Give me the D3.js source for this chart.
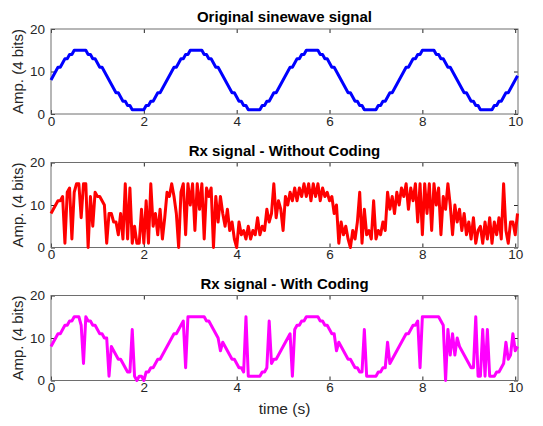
<!DOCTYPE html>
<html>
<head>
<meta charset="utf-8">
<script src="https://cdn.jsdelivr.net/npm/d3@7"></script>
<style>
  body { margin: 0; background: #fff; }
  svg { display: block; font-family: "Liberation Sans", Arial, sans-serif; }
  .tick text { fill: #262626; font-size: 13.5px; }
  .tick line { stroke: #262626; }
</style>
</head>
<body>
<svg id="chart" width="543" height="426"></svg>
<script>
// sample step in seconds, and quantized amplitudes (4 bits)
var dt = 0.05;

var original = [
  8,9,10,11,11,12,13,13,14,14, 15,15,15,15,15,15,14,14,13,13,
  12,11,11,10,9,8,7,6,5,5, 4,3,3,2,2,1,1,1,1,1,
  1,2,2,3,3,4,5,5,6,7,
  8,9,10,11,11,12,13,13,14,14, 15,15,15,15,15,15,14,14,13,13,
  12,11,11,10,9,8,7,6,5,5, 4,3,3,2,2,1,1,1,1,1,
  1,2,2,3,3,4,5,5,6,7,
  8,9,10,11,11,12,13,13,14,14, 15,15,15,15,15,15,14,14,13,13,
  12,11,11,10,9,8,7,6,5,5, 4,3,3,2,2,1,1,1,1,1,
  1,2,2,3,3,4,5,5,6,7,
  8,9,10,11,11,12,13,13,14,14, 15,15,15,15,15,15,14,14,13,13,
  12,11,11,10,9,8,7,6,5,5, 4,3,3,2,2,1,1,1,1,1,
  1,2,2,3,3,4,5,5,6,7,
  8,9
];

var rxNoCoding = [
  8,9,10,11,11,12,1,13,14,2,
  13,15,15,7,15,15,0,12,5,13,
  12,12,11,10,1,8,8,6,6,3,
  8,2,15,2,14,1,5,1,1,9,
  1,11,1,15,5,8,3,9,2,7,
  13,12,15,12,8,0,13,15,3,15,
  10,15,4,15,9,15,2,14,12,14,
  0,12,6,12,8,5,9,4,6,2,
  0,6,3,4,2,5,2,4,3,7,
  3,5,4,9,6,8,15,7,11,9,
  4,12,10,13,11,14,11,14,12,15,
  12,15,11,15,12,15,11,14,12,13,
  11,12,8,10,1,6,3,5,2,0,
  4,2,6,13,1,9,3,4,2,11,
  2,4,3,6,4,13,9,12,8,13,
  10,14,12,15,9,14,11,15,6,15,
  3,15,8,15,4,15,10,14,3,12,
  9,15,10,3,10,6,9,4,8,3,
  6,2,7,1,4,5,1,6,2,7,
  1,6,3,7,2,15,4,1,6,6,
  3,8
];

var rxCoding = [
  8,9,10,11,11,12,13,13,14,14,
  15,15,15,13,4,15,14,14,13,13,
  12,11,11,10,10,1,8,7,6,5,
  5,4,3,2,2,12,1,0,1,1,
  0,2,2,3,3,4,5,5,6,7,
  8,9,10,11,11,12,13,14,3,15,
  15,15,15,15,15,15,15,14,14,13,
  12,11,10,7,9,8,7,6,5,5,
  4,3,3,2,15,1,1,1,1,1,
  1,2,2,3,14,4,5,5,6,7,
  8,9,10,11,1,12,13,13,14,14,
  15,15,15,15,15,15,14,14,13,13,
  12,11,11,7,9,8,7,6,5,5,
  4,3,3,2,2,12,1,1,1,1,
  1,2,2,3,3,9,4,5,6,7,
  8,9,10,11,11,12,13,13,14,3,
  15,15,15,15,15,15,15,15,14,13,
  0,12,6,11,6,10,8,7,6,5,
  4,3,3,15,1,1,12,1,12,1,
  1,1,2,2,3,4,9,5,6,11,
  7,8
];

var titles = ['Original sinewave signal', 'Rx signal - Without Coding', 'Rx signal - With Coding'];
var colors = ['#0000ff', '#ff0000', '#ff00ff'];
var series = [original, rxNoCoding, rxCoding];
var xTicks = [0, 2, 4, 6, 8, 10];
var yTicks = [0, 10, 20];

var svg = d3.select('#chart');
var left = 51, right = 518, h = 85;
var tops = [29, 162.5, 295.5];

var x = d3.scaleLinear().domain([0, 10.06]).range([left, right]);

series.forEach(function(values, n) {
    var top = tops[n];
    var y = d3.scaleLinear().domain([0, 20]).range([top + h, top]);
    var g = svg.append('g');

    // ticks point inward, on all four sides
    g.append('g')
	.attr('transform', 'translate(0,' + (top + h) + ')')
	.call(d3.axisBottom(x).tickValues(xTicks).tickSizeInner(-4).tickSizeOuter(0).tickPadding(2))
	.call(function(a) { a.select('.domain').remove(); });
    g.append('g')
	.attr('transform', 'translate(0,' + top + ')')
	.call(d3.axisTop(x).tickValues(xTicks).tickSizeInner(-4).tickSizeOuter(0).tickFormat(''))
	.call(function(a) { a.select('.domain').remove(); });
    g.append('g')
	.attr('transform', 'translate(' + left + ',0)')
	.call(d3.axisLeft(y).tickValues(yTicks).tickSizeInner(-4).tickSizeOuter(0).tickPadding(6))
	.call(function(a) { a.select('.domain').remove(); });
    g.append('g')
	.attr('transform', 'translate(' + right + ',0)')
	.call(d3.axisRight(y).tickValues(yTicks).tickSizeInner(-4).tickSizeOuter(0).tickFormat(''))
	.call(function(a) { a.select('.domain').remove(); });

    g.append('rect')
	.attr('x', left).attr('y', top)
	.attr('width', right - left).attr('height', h)
	.attr('fill', 'none')
	.attr('stroke', '#6e6e6e')
	.attr('stroke-width', 1);

    var line = d3.line()
	.x(function(d, i) { return x(i * dt); })
	.y(function(d) { return y(d); });

    g.append('path')
	.datum(values)
	.attr('d', line)
	.attr('fill', 'none')
	.attr('stroke', colors[n])
	.attr('stroke-width', 3)
	.attr('stroke-linejoin', 'round');

    g.append('text')
	.attr('x', (left + right) / 2)
	.attr('y', top - 7)
	.attr('text-anchor', 'middle')
	.style('font-size', '15px')
	.style('font-weight', 'bold')
	.attr('fill', '#000')
	.text(titles[n]);

    g.append('text')
	.attr('transform', 'translate(23,' + (top + h / 2) + ') rotate(-90)')
	.attr('text-anchor', 'middle')
	.style('font-size', '15px')
	.attr('fill', '#262626')
	.text('Amp. (4 bits)');
});

svg.append('text')
    .attr('x', (left + right) / 2)
    .attr('y', 414)
    .attr('text-anchor', 'middle')
    .style('font-size', '15.5px')
    .attr('fill', '#262626')
    .text('time (s)');
</script>
</body>
</html>
